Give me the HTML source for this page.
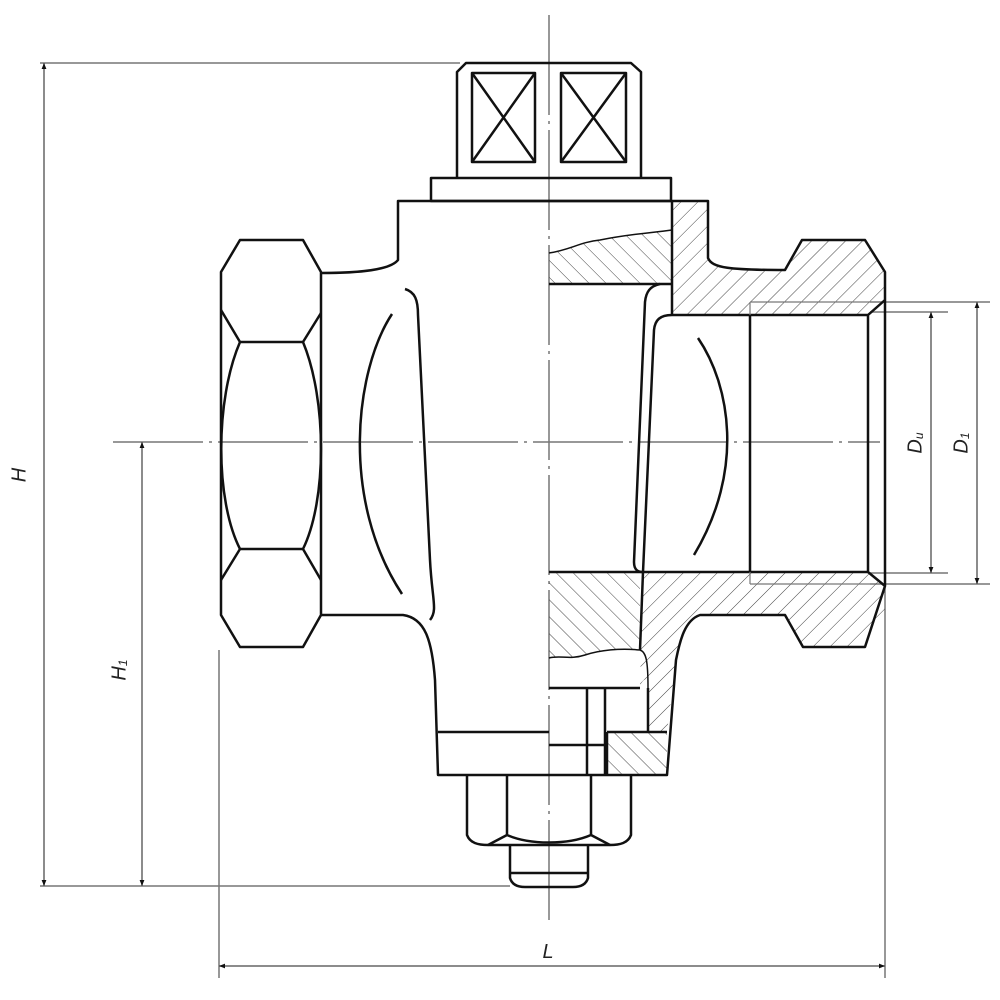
<!DOCTYPE html>
<html><head><meta charset="utf-8"><style>html,body{margin:0;padding:0;background:#fff}svg{display:block}</style></head><body>
<svg width="1000" height="1000" viewBox="0 0 1000 1000" xmlns="http://www.w3.org/2000/svg">
<defs>
<pattern id="hr" width="12" height="12" patternUnits="userSpaceOnUse" patternTransform="rotate(45)"><line x1="0" y1="0" x2="0" y2="12" stroke="#444" stroke-width="1"/></pattern>
<pattern id="hl" width="12" height="12" patternUnits="userSpaceOnUse" patternTransform="rotate(-45)"><line x1="0" y1="0" x2="0" y2="12" stroke="#444" stroke-width="1"/></pattern>
<marker id="ar" viewBox="0 0 10 10" refX="10" refY="5" markerWidth="14" markerHeight="6" markerUnits="userSpaceOnUse" orient="auto-start-reverse"><path d="M0,1 L10,5 L0,9z" fill="#111"/></marker>
</defs>
<g stroke="#777" stroke-width="1.5" fill="none">
<line x1="40" y1="63" x2="460" y2="63"/>
<line x1="40" y1="886" x2="510" y2="886"/>
<line x1="113" y1="442" x2="880" y2="442" stroke-dasharray="90,6,3,6"/>
<line x1="549" y1="15" x2="549" y2="920" stroke-dasharray="100,6,3,6"/>
<line x1="219" y1="650" x2="219" y2="978"/>
<line x1="885" y1="330" x2="885" y2="978"/>
<line x1="870" y1="302" x2="990" y2="302"/>
<line x1="870" y1="312" x2="948" y2="312"/>
<line x1="870" y1="573" x2="948" y2="573"/>
<line x1="870" y1="584" x2="990" y2="584"/>
</g>
<g stroke="#666" stroke-width="1.5" fill="none">
<line x1="44" y1="63" x2="44" y2="886" marker-start="url(#ar)" marker-end="url(#ar)"/>
<line x1="142" y1="442" x2="142" y2="886" marker-start="url(#ar)" marker-end="url(#ar)"/>
<line x1="219" y1="966" x2="885" y2="966" marker-start="url(#ar)" marker-end="url(#ar)"/>
<line x1="931" y1="312" x2="931" y2="573" marker-start="url(#ar)" marker-end="url(#ar)"/>
<line x1="977" y1="302" x2="977" y2="584" marker-start="url(#ar)" marker-end="url(#ar)"/>
</g>
<g font-family="Liberation Sans, sans-serif" font-style="italic" font-size="20" fill="#222">
<text x="20" y="475" transform="rotate(-90 20 475)" text-anchor="middle" dominant-baseline="middle">H</text>
<text x="120" y="670" transform="rotate(-90 120 670)" text-anchor="middle" dominant-baseline="middle">H<tspan font-size="12" dy="4">1</tspan></text>
<text x="548" y="958" text-anchor="middle">L</text>
<text x="916" y="443" transform="rotate(-90 916 443)" text-anchor="middle" dominant-baseline="middle">D<tspan font-size="12" dy="4">u</tspan></text>
<text x="962" y="443" transform="rotate(-90 962 443)" text-anchor="middle" dominant-baseline="middle">D<tspan font-size="12" dy="4">1</tspan></text>
</g>
<g stroke="none">
<path d="M549,253 C570,250 580,242 600,240 C630,234 650,233 672,230 L672,284 L549,284Z" fill="url(#hl)"/>
<path d="M672,201 L708,201 L708,258 C712,268 730,270 785,270 L802,240 L865,240 L885,272 L885,300 L868,315 L672,315Z" fill="url(#hr)"/>
<path d="M549,572 L640,572 L640,650 C620,648 600,650 585,655 C570,660 560,655 549,658Z" fill="url(#hl)"/>
<path d="M643,572 L868,572 L885,586 L885,615 L865,647 L803,647 L785,615 L700,615 C685,620 680,640 676,660 L667,732 L648,732 L648,688 C648,680 645,675 640,686Z" fill="url(#hr)"/>
<rect x="607" y="732" width="60" height="43" fill="url(#hl)"/>
</g>
<g stroke="#111" stroke-width="2.5" fill="none" stroke-linejoin="round">
<path d="M457,178 L457,72 L466,63 L631,63 L641,72 L641,178"/>
<rect x="472" y="73" width="63" height="89"/><path d="M472,73 L535,162 M535,73 L472,162"/>
<rect x="561" y="73" width="65" height="89"/><path d="M561,73 L626,162 M626,73 L561,162"/>
<rect x="431" y="178" width="240" height="23"/>
<path d="M549,201 L398,201 L398,260 C390,270 360,273 321,273"/>
<path d="M321,615 L403,615 C425,618 432,640 435,680 L438,775 L549,775"/>
<line x1="438" y1="732" x2="549" y2="732"/>
<path d="M405,289 C415,292 418,300 418,315 L430,560 C432,600 438,610 430,620"/>
<path d="M392,314 C355,370 340,500 402,594"/>
<path d="M240,240 L303,240 L321,272 L321,615 L303,647 L240,647 L221,615 L221,272Z"/>
<path d="M221,310 L240,342 L303,342 L321,313 M221,580 L240,549 L303,549 L321,580 M240,342 C215,400 215,500 240,549 M303,342 C327,400 327,500 303,549"/>
<path d="M549,201 L672,201 L708,201 L708,258 C712,268 730,270 785,270 L802,240 L865,240 L885,272 L885,586 L865,647 L803,647 L785,615 L700,615 C685,620 680,640 676,660 L667,775 L549,775"/>
<path d="M549,253 C570,250 580,242 600,240 C630,234 650,233 672,230" stroke-width="1.5"/>
<line x1="549" y1="284" x2="672" y2="284"/>
<line x1="672" y1="201" x2="672" y2="315"/>
<path d="M672,315 L868,315 L885,300 M868,315 L868,572 L885,586"/>
<line x1="750" y1="315" x2="750" y2="572"/>
<line x1="549" y1="572" x2="868" y2="572"/>
<path d="M660,284 C650,286 646,292 645,302 L634,562 C634,570 638,572 643,572"/>
<path d="M672,315 C660,315 655,320 654,330 L643,572"/>
<path d="M698,338 C730,385 745,470 694,555"/>
<path d="M549,658 C560,655 570,660 585,655 C600,650 620,648 640,650 C646,652 648,660 648,688" stroke-width="1.5"/>
<line x1="643" y1="572" x2="640" y2="650"/>
<line x1="549" y1="688" x2="640" y2="688"/>
<path d="M587,688 L587,775 M605,688 L605,775 M549,745 L605,745"/>
<path d="M607,732 L667,732 M607,732 L607,775 M648,688 L648,732"/>
<path d="M467,775 L467,835 C470,843 478,845 488,845 L610,845 C620,845 628,843 631,835 L631,775"/>
<path d="M507,775 L507,835 M591,775 L591,835 M488,845 L507,835 C530,845 568,845 591,835 L610,845"/>
<path d="M510,845 L510,878 C512,885 518,887 525,887 L573,887 C580,887 586,885 588,878 L588,845 M510,873 L588,873"/>
</g>
<g stroke="#777" stroke-width="1.2"><line x1="750" y1="302" x2="870" y2="302"/><line x1="750" y1="302" x2="750" y2="315"/><line x1="750" y1="584" x2="870" y2="584"/><line x1="750" y1="572" x2="750" y2="584"/></g>
</svg>
</body></html>
